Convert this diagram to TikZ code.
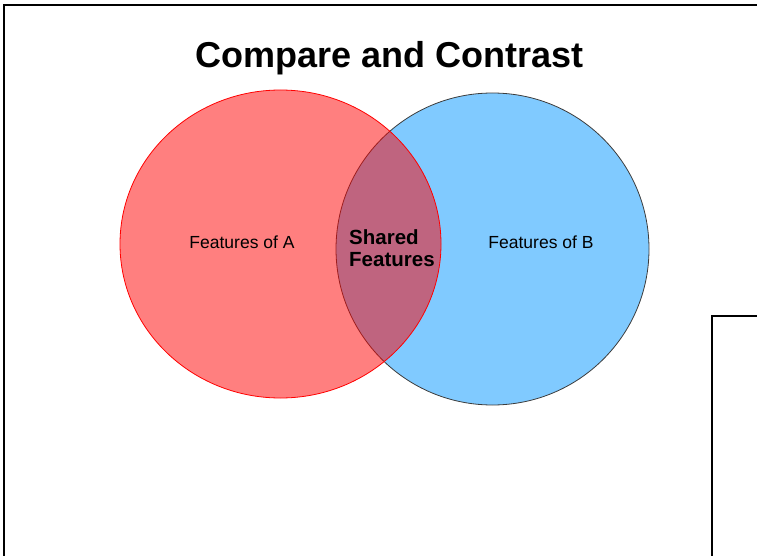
\documentclass[tikz,border=0pt]{standalone}
\usepackage{fontspec}
\setmainfont{Liberation Sans}
\usepackage{xcolor}
\usepackage{tikz}
\usetikzlibrary{positioning,shapes}
\definecolor{setA}{RGB}{255,0,0}
\definecolor{setB}{RGB}{128,202,255}
\definecolor{edgeB}{RGB}{60,60,60}

\begin{document}
\begin{tikzpicture}[x=1pt, y=-1pt, inner sep=0pt,
    featlabel/.style={anchor=base, font=\fontsize{17.5}{20}\selectfont},
    framestroke/.style={line width=2.5pt, black}]
	\useasboundingbox (0,0) rectangle (757,556);
	% slide frame and the box on the right
	\draw[framestroke] (4,556) -- (4,5) -- (757,5);
	\draw[framestroke, line width=2pt] (712,556) -- (712,316) -- (757,316);
	
	\node[anchor=base, font=\fontsize{36}{40}\selectfont\bfseries] (title) at (390,68) {Compare and Contrast};
	
	\draw[edgeB, line width=0.8pt, fill=setB] (492.5,249) ellipse [x radius=156.5, y radius=156];
	\draw[setA, line width=0.8pt, fill=setA, fill opacity=0.5] (280.5,244) ellipse [x radius=160.5, y radius=154];
	
	\node[featlabel] (featA) at (242,248.5) {Features of A};
	\node[featlabel] (featB) at (541,248.5) {Features of B};
	\node[anchor=base west, align=left, font=\fontsize{20.5}{22}\selectfont\bfseries] (shared) at (349,266) {Shared\\Features};
\end{tikzpicture}
\end{document}
